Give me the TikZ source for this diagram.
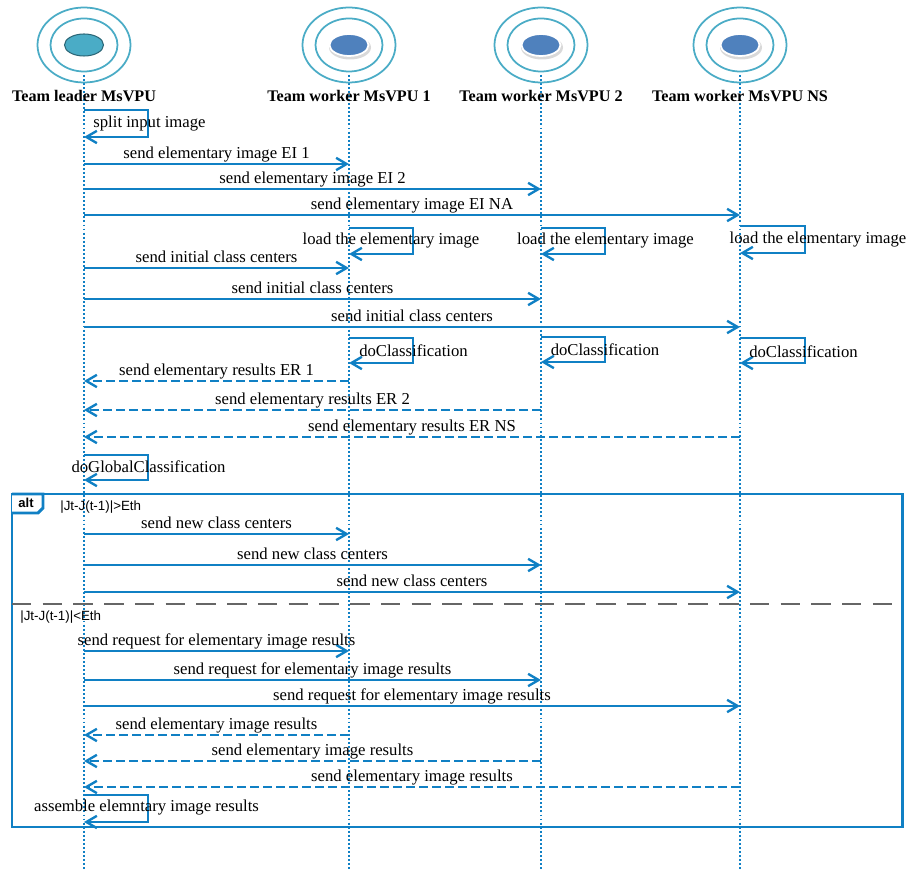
\documentclass[tikz,border=0pt]{standalone}
\usepackage{fontspec}
\setmainfont{Liberation Serif}
\setsansfont{Liberation Sans}
\usetikzlibrary{arrows.meta}
\usetikzlibrary{positioning}

\definecolor{seqblue}{RGB}{16,128,196}
\definecolor{ringblue}{RGB}{75,172,198}
\definecolor{leadteal}{RGB}{74,172,198}
\definecolor{workblue}{RGB}{79,129,189}

\begin{document}
\begin{tikzpicture}[
    x=0.02cm, y=-0.02cm,
    font=\fontsize{9.5}{11}\selectfont,
    >={Straight Barb[length=6pt,width=7pt]},
    % Geometry of the actor symbols
    ring_out/.style={x radius=46.5, y radius=37.5},
    ring_in/.style={x radius=33.5, y radius=26.5},
    dot_rad/.style={x radius=19.5, y radius=11},
    ring/.style={ringblue, line width=1pt},
    % Lifelines and messages
    lifeline/.style={seqblue, line width=1.4pt, dash pattern=on 1.1pt off 1.2pt},
    actor_lbl/.style={font=\fontsize{9.2}{11}\selectfont\bfseries, inner sep=0pt},
    msg/.style={seqblue, line width=1.35pt, ->},
    reply/.style={msg, dash pattern=on 5pt off 2.4pt},
    msg_lbl/.style={midway, anchor=base, yshift=3pt, inner sep=0pt, text=black},
    self_lbl/.style={inner sep=0pt},
    % Combined fragment
    frame/.style={seqblue, line width=1.7pt},
    guard/.style={font=\sffamily\fontsize{7.6}{9}\selectfont, inner sep=0pt, anchor=west},
    separator/.style={gray!80!black, line width=1.2pt, dash pattern=on 11pt off 6.5pt}
]
\useasboundingbox (0,0) rectangle (910,871);

% --- 1. Actors and lifelines ---

\coordinate (lead) at (84,45);
\coordinate (w1) at (349,45);
\coordinate (w2) at (541,45);
\coordinate (wns) at (740,45);

\draw[lifeline] (lead) ++(0,30) -- (lead |- 0,871);
\draw[lifeline] (w1) ++(0,30) -- (w1 |- 0,871);
\draw[lifeline] (w2) ++(0,30) -- (w2 |- 0,871);
\draw[lifeline] (wns) ++(0,30) -- (wns |- 0,871);

% Rings round each actor
\draw[ring] (lead) circle[ring_out];
\draw[ring] (lead) circle[ring_in];
\draw[ring] (w1) circle[ring_out];
\draw[ring] (w1) circle[ring_in];
\draw[ring] (w2) circle[ring_out];
\draw[ring] (w2) circle[ring_in];
\draw[ring] (wns) circle[ring_out];
\draw[ring] (wns) circle[ring_in];

% Leader dot (outlined), worker dots (with a soft shadow)
\fill[leadteal, draw=leadteal!60!black, line width=0.6pt] (lead) circle[dot_rad];
\fill[gray!30] ([shift={(1,2.5)}]w1) circle[x radius=21, y radius=12];
\fill[workblue, draw=white, line width=1pt] (w1) circle[dot_rad];
\fill[gray!30] ([shift={(1,2.5)}]w2) circle[x radius=21, y radius=12];
\fill[workblue, draw=white, line width=1pt] (w2) circle[dot_rad];
\fill[gray!30] ([shift={(1,2.5)}]wns) circle[x radius=21, y radius=12];
\fill[workblue, draw=white, line width=1pt] (wns) circle[dot_rad];

\node[actor_lbl] (leadname) at (84,96) {Team leader MsVPU};
\node[actor_lbl] (w1name) at (349,96) {Team worker MsVPU 1};
\node[actor_lbl] (w2name) at (541,96) {Team worker MsVPU 2};
\node[actor_lbl] (wnsname) at (740,96) {Team worker MsVPU NS};

% --- 2. Splitting and distributing the image ---

\draw[msg] (lead |- 0,110) -- ++(64,0) -- ++(0,27) -- (lead |- 0,137);
\node[self_lbl] (split) at (149.5,124) {split input image};

\draw[msg] (lead |- 0,164) -- node[msg_lbl] (ei1) {send elementary image EI 1} (w1 |- 0,164);
\draw[msg] (lead |- 0,189) -- node[msg_lbl] (ei2) {send elementary image EI 2} (w2 |- 0,189);
\draw[msg] (lead |- 0,215) -- node[msg_lbl] (eina) {send elementary image EI NA} (wns |- 0,215);

\draw[msg] (w1 |- 0,228) -- ++(64,0) -- ++(0,26) -- (w1 |- 0,254);
\node[self_lbl] (load1) at (391,241) {load the elementary image};
\draw[msg] (w2 |- 0,228) -- ++(64,0) -- ++(0,26) -- (w2 |- 0,254);
\node[self_lbl] (load2) at (605.5,241) {load the elementary image};
\draw[msg] (wns |- 0,226) -- ++(65,0) -- ++(0,27) -- (wns |- 0,253);
\node[self_lbl] (load3) at (818,240) {load the elementary image};

\draw[msg] (lead |- 0,268) -- node[msg_lbl] (ic1) {send initial class centers} (w1 |- 0,268);
\draw[msg] (lead |- 0,299) -- node[msg_lbl] (ic2) {send initial class centers} (w2 |- 0,299);
\draw[msg] (lead |- 0,327) -- node[msg_lbl] (icns) {send initial class centers} (wns |- 0,327);

% --- 3. Local classification and results ---

\draw[msg] (w1 |- 0,338) -- ++(64,0) -- ++(0,25) -- (w1 |- 0,363);
\node[self_lbl] (cls1) at (413.5,351) {doClassification};
\draw[msg] (w2 |- 0,337) -- ++(64,0) -- ++(0,25) -- (w2 |- 0,362);
\node[self_lbl] (cls2) at (605,350) {doClassification};
\draw[msg] (wns |- 0,338) -- ++(65,0) -- ++(0,25) -- (wns |- 0,363);
\node[self_lbl] (clsns) at (803.5,352) {doClassification};

\draw[reply] (w1 |- 0,381) -- node[msg_lbl] (er1) {send elementary results ER 1} (lead |- 0,381);
\draw[reply] (w2 |- 0,410) -- node[msg_lbl] (er2) {send elementary results ER 2} (lead |- 0,410);
\draw[reply] (wns |- 0,437) -- node[msg_lbl] (erns) {send elementary results ER NS} (lead |- 0,437);

\draw[msg] (lead |- 0,455) -- ++(64,0) -- ++(0,25) -- (lead |- 0,480);
\node[self_lbl] (glob) at (148.5,467) {doGlobalClassification};

% --- 4. alt fragment ---

\draw[frame] (12,494) rectangle (902,827);
\draw[frame, fill=white] (12,494) -- (43,494) -- (43,508) -- (38,513) -- (12,513);
\node[guard, anchor=center, font=\sffamily\bfseries\fontsize{7.4}{9}\selectfont] (alt) at (26,503) {alt};
\node[guard] (g1) at (60,507) {|Jt-J(t-1)|>Eth};

\draw[msg] (lead |- 0,534) -- node[msg_lbl] (nc1) {send new class centers} (w1 |- 0,534);
\draw[msg] (lead |- 0,565) -- node[msg_lbl] (nc2) {send new class centers} (w2 |- 0,565);
\draw[msg] (lead |- 0,592) -- node[msg_lbl] (ncns) {send new class centers} (wns |- 0,592);

\draw[separator] (12,604) -- (895,604);
\node[guard] (g2) at (20,617) {|Jt-J(t-1)|<Eth};

\draw[msg] (lead |- 0,651) -- node[msg_lbl] (rq1) {send request for elementary image results} (w1 |- 0,651);
\draw[msg] (lead |- 0,680) -- node[msg_lbl] (rq2) {send request for elementary image results} (w2 |- 0,680);
\draw[msg] (lead |- 0,706) -- node[msg_lbl] (rqns) {send request for elementary image results} (wns |- 0,706);

\draw[reply] (w1 |- 0,735) -- node[msg_lbl] (res1) {send elementary image results} (lead |- 0,735);
\draw[reply] (w2 |- 0,761) -- node[msg_lbl] (res2) {send elementary image results} (lead |- 0,761);
\draw[reply] (wns |- 0,787) -- node[msg_lbl] (resns) {send elementary image results} (lead |- 0,787);

\draw[msg] (lead |- 0,795) -- ++(64,0) -- ++(0,27) -- (lead |- 0,822);
\node[self_lbl] (asm) at (146.5,808) {assemble elemntary image results};

\end{tikzpicture}
\end{document}
